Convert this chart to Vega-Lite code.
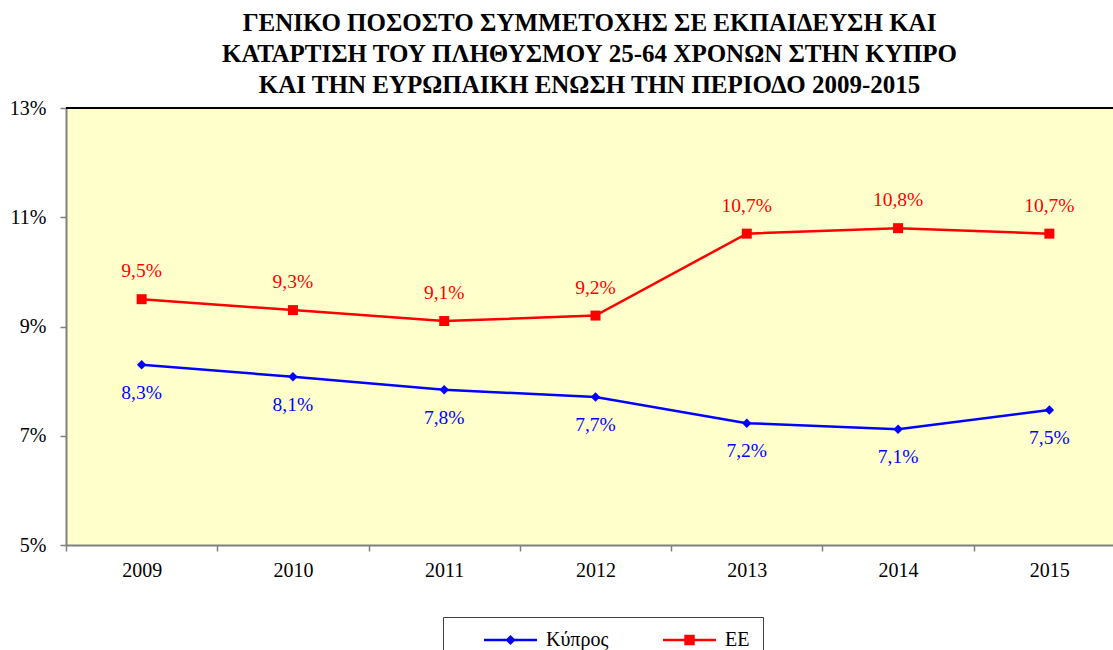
{
  "$schema": "https://vega.github.io/schema/vega-lite/v6.json",
  "autosize": {"type": "none"},
  "width": 1047,
  "height": 437,
  "padding": {"left": 66, "top": 108, "right": 0, "bottom": 105},
  "background": "white",
  "title": {
    "text": ["ΓΕΝΙΚΟ ΠΟΣΟΣΤΟ ΣΥΜΜΕΤΟΧΗΣ ΣΕ ΕΚΠΑΙΔΕΥΣΗ ΚΑΙ", "ΚΑΤΑΡΤΙΣΗ ΤΟΥ ΠΛΗΘΥΣΜΟΥ 25-64 ΧΡΟΝΩΝ ΣΤΗΝ ΚΥΠΡΟ", "ΚΑΙ ΤΗΝ ΕΥΡΩΠΑΙΚΗ ΕΝΩΣΗ ΤΗΝ ΠΕΡΙΟΔΟ 2009-2015"],
    "font": "Liberation Serif",
    "fontSize": 25,
    "fontWeight": "bold",
    "lineHeight": 31,
    "color": "black",
    "anchor": "middle",
    "frame": "group",
    "offset": 0
  },
  "data": {
    "values": [
      {"year": "2009", "series": "Κύπρος", "value": 8.30, "label": "8,3%"},
      {"year": "2010", "series": "Κύπρος", "value": 8.08, "label": "8,1%"},
      {"year": "2011", "series": "Κύπρος", "value": 7.84, "label": "7,8%"},
      {"year": "2012", "series": "Κύπρος", "value": 7.71, "label": "7,7%"},
      {"year": "2013", "series": "Κύπρος", "value": 7.23, "label": "7,2%"},
      {"year": "2014", "series": "Κύπρος", "value": 7.12, "label": "7,1%"},
      {"year": "2015", "series": "Κύπρος", "value": 7.47, "label": "7,5%"},
      {"year": "2009", "series": "ΕΕ", "value": 9.5, "label": "9,5%"},
      {"year": "2010", "series": "ΕΕ", "value": 9.3, "label": "9,3%"},
      {"year": "2011", "series": "ΕΕ", "value": 9.1, "label": "9,1%"},
      {"year": "2012", "series": "ΕΕ", "value": 9.2, "label": "9,2%"},
      {"year": "2013", "series": "ΕΕ", "value": 10.7, "label": "10,7%"},
      {"year": "2014", "series": "ΕΕ", "value": 10.8, "label": "10,8%"},
      {"year": "2015", "series": "ΕΕ", "value": 10.7, "label": "10,7%"}
    ]
  },
  "layer": [
    {
      "transform": [{"filter": "datum.year === '2009' && datum.series === 'ΕΕ'"}],
      "mark": {"type": "rule", "color": "black", "strokeWidth": 2},
      "encoding": {
        "y": {"datum": 13, "type": "quantitative"}
      }
    },
    {
      "mark": {"type": "line", "strokeWidth": 2.5},
      "encoding": {
        "x": {
          "field": "year", "type": "ordinal",
          "scale": {"type": "band", "range": [0, 1059], "paddingInner": 0, "paddingOuter": 0},
          "axis": {
            "title": null, "labelAngle": 0, "tickBand": "extent",
            "domainColor": "#808080", "domainWidth": 2, "tickColor": "#808080", "tickWidth": 1.5, "tickSize": 6,
            "labelFont": "Liberation Serif", "labelFontSize": 20, "labelColor": "black", "labelPadding": 9
          }
        },
        "y": {
          "field": "value", "type": "quantitative",
          "scale": {"domain": [5, 13], "nice": false, "zero": false},
          "axis": {
            "title": null, "values": [5, 7, 9, 11, 13], "labelExpr": "datum.value + '%'", "grid": false,
            "domainColor": "#808080", "domainWidth": 2, "tickColor": "#808080", "tickWidth": 1.5, "tickSize": 6,
            "labelFont": "Liberation Serif", "labelFontSize": 20, "labelColor": "black", "labelPadding": 14
          }
        },
        "color": {
          "field": "series", "type": "nominal",
          "scale": {"domain": ["Κύπρος", "ΕΕ"], "range": ["#0000FF", "#FF0000"]},
          "legend": {
            "title": null,
            "orient": "none",
            "direction": "horizontal",
            "legendX": 377,
            "legendY": 509,
            "padding": 13,
            "strokeColor": "#404040",
            "fillColor": "white",
            "symbolType": "M3,-0.2H11.83V0.2H3Z",
            "symbolSize": 144,
            "symbolStrokeWidth": 0,
            "labelFont": "Liberation Serif",
            "labelFontSize": 20,
            "labelColor": "black",
            "labelOffset": 70,
            "columnPadding": 26,
            "encode": {
              "symbols": {
                "update": {
                  "shape": {"signal": "datum.value === 'ΕΕ' ? 'M3,-0.2H11.83V0.2H3Z M6.55,-0.87H8.29V0.87H6.55Z' : 'M3,-0.2H11.83V0.2H3Z M7.42,-0.85L8.27,0L7.42,0.85L6.57,0Z'"},
                  "fill": {"scale": "color", "field": "value"},
                  "fillOpacity": {"value": 1},
                  "strokeWidth": {"value": 0}
                }
              }
            }
          }
        }
      }
    },
    {
      "transform": [{"filter": "datum.series === 'Κύπρος'"}],
      "mark": {"type": "point", "shape": "diamond", "filled": true, "opacity": 1, "size": 90},
      "encoding": {
        "x": {"field": "year", "type": "ordinal"},
        "y": {"field": "value", "type": "quantitative"},
        "color": {"field": "series", "type": "nominal"}
      }
    },
    {
      "transform": [{"filter": "datum.series === 'ΕΕ'"}],
      "mark": {"type": "point", "shape": "square", "filled": true, "opacity": 1, "size": 100},
      "encoding": {
        "x": {"field": "year", "type": "ordinal"},
        "y": {"field": "value", "type": "quantitative"},
        "color": {"field": "series", "type": "nominal"}
      }
    },
    {
      "transform": [{"filter": "datum.series === 'Κύπρος'"}],
      "mark": {"type": "text", "font": "Liberation Serif", "fontSize": 19.5, "dy": 28},
      "encoding": {
        "x": {"field": "year", "type": "ordinal"},
        "y": {"field": "value", "type": "quantitative"},
        "color": {"field": "series", "type": "nominal"},
        "text": {"field": "label"}
      }
    },
    {
      "transform": [{"filter": "datum.series === 'ΕΕ'"}],
      "mark": {"type": "text", "font": "Liberation Serif", "fontSize": 19.5, "dy": -28},
      "encoding": {
        "x": {"field": "year", "type": "ordinal"},
        "y": {"field": "value", "type": "quantitative"},
        "color": {"field": "series", "type": "nominal"},
        "text": {"field": "label"}
      }
    }
  ],
  "config": {
    "view": {"fill": "#FFFFCC", "stroke": null}
  }
}
